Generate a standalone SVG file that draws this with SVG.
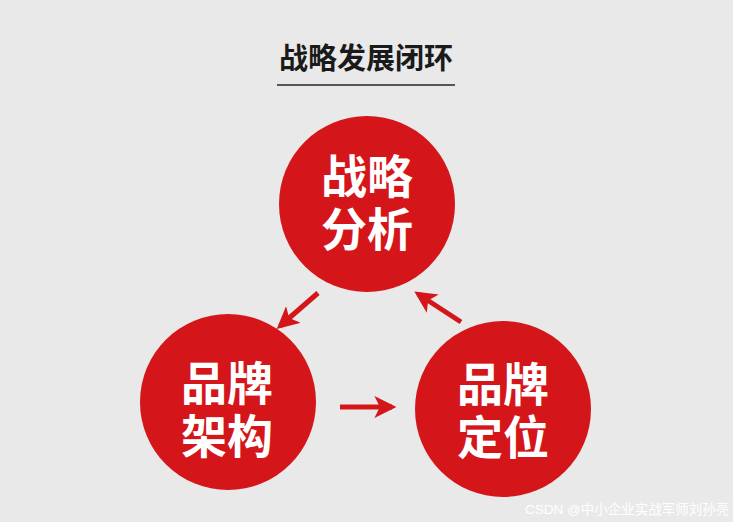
<svg xmlns="http://www.w3.org/2000/svg" width="733" height="522" viewBox="0 0 733 522">
<style>
.bg{fill:#e9e9e9}
.circ{fill:#d4161b}
.ct{font-family:"Noto Sans CJK SC","Noto Sans",sans-serif;font-weight:700;font-size:46px;fill:#ffffff;text-anchor:middle}
.title{font-family:"Noto Sans CJK SC","Noto Sans",sans-serif;font-weight:700;font-size:29px;fill:#1a1a1a;text-anchor:middle}
.arr{stroke:#d4161b;stroke-width:5;fill:none}
.wm{font-family:"Liberation Sans","Noto Sans CJK SC",sans-serif;font-size:13.5px;fill:#ffffff}
</style>
<defs>
<marker id="ah" viewBox="0 0 20 20" refX="16" refY="10" markerWidth="22" markerHeight="22" markerUnits="userSpaceOnUse" orient="auto">
<path d="M0,0 L20,10 L0,20 L5,10 Z" fill="#d4161b"/>
</marker>
</defs>
<rect class="bg" x="0" y="0" width="733" height="522"/>
<g id="title">
<text class="title" x="366" y="69">战略发展闭环</text>
<line x1="277" y1="85" x2="455" y2="85" stroke="#555" stroke-width="2"/>
</g>
<g id="node-analysis">
<circle class="circ" cx="367" cy="204" r="88"/>
<text class="ct"><tspan x="367" y="193">战略</tspan><tspan x="367" y="246">分析</tspan></text>
</g>
<g id="node-architecture">
<circle class="circ" cx="228" cy="402" r="88"/>
<text class="ct"><tspan x="227" y="400">品牌</tspan><tspan x="227" y="453">架构</tspan></text>
</g>
<g id="node-positioning">
<circle class="circ" cx="503" cy="409" r="88"/>
<text class="ct"><tspan x="503" y="401">品牌</tspan><tspan x="503" y="454">定位</tspan></text>
</g>
<g id="connectors">
<line class="arr" x1="318" y1="293" x2="280" y2="326" marker-end="url(#ah)"/>
<line class="arr" x1="461" y1="322" x2="418" y2="294" marker-end="url(#ah)"/>
<line class="arr" x1="340" y1="407" x2="392" y2="407" marker-end="url(#ah)"/>
</g>
<text class="wm" x="525" y="514">CSDN @中小企业实战军师刘孙亮</text>
</svg>
